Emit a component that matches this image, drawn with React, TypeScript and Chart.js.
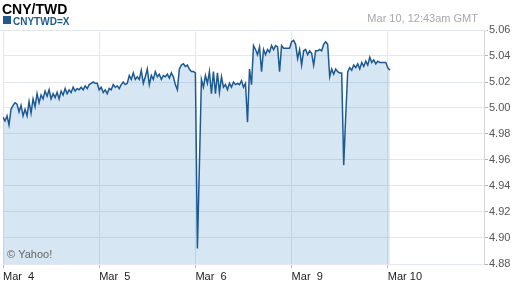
import React, { useEffect, useRef } from 'react';
import { Chart, registerables } from 'chart.js';

Chart.register(...registerables);

const TITLE = 'CNY/TWD';
const SYMBOL = 'CNYTWD=X';
const TIMESTAMP = 'Mar 10, 12:43am GMT';
const CREDIT = '© Yahoo!';

const X_TICK_DAYS = [0, 1, 2, 3, 4];
const X_TICK_LABELS = ['Mar  4', 'Mar  5', 'Mar  6', 'Mar  9', 'Mar 10'];
const Y_TICKS = [4.88, 4.9, 4.92, 4.94, 4.96, 4.98, 5.0, 5.02, 5.04, 5.06];
const Y_MIN = 4.88;
const Y_MAX = 5.06;
const X_MAX_DAYS = 5;
const SAMPLES_PER_DAY = 48; // one quote every 30 minutes

const MAR4 = [
  4.993, 4.99, 4.994, 4.987, 4.999, 5.002, 5.004, 5.003, 4.997, 5.002, 4.994, 4.999,
  4.994, 5.005, 4.996, 5.007, 5.001, 5.011, 5.004, 5.01, 5.007, 5.013, 5.009, 5.014,
  5.007, 5.011, 5.008, 5.012, 5.007, 5.013, 5.01, 5.015, 5.011, 5.014, 5.012, 5.016,
  5.013, 5.015, 5.014, 5.016, 5.014, 5.017, 5.015, 5.018, 5.019, 5.02, 5.019, 5.019,
];
const MAR5 = [
  5.014, 5.016, 5.012, 5.014, 5.011, 5.015, 5.014, 5.018, 5.016, 5.017, 5.015, 5.018,
  5.02, 5.018, 5.019, 5.025, 5.022, 5.027, 5.022, 5.024, 5.022, 5.029, 5.019, 5.024,
  5.03, 5.018, 5.025, 5.022, 5.028, 5.024, 5.026, 5.022, 5.025, 5.024, 5.026, 5.023,
  5.027, 5.024, 5.018, 5.014, 5.03, 5.033, 5.034, 5.032, 5.033, 5.03, 5.028, 5.028,
];
const MAR6 = [
  5.027, 4.892, 4.956, 5.022, 5.016, 5.025, 5.019, 5.028, 5.011, 5.028, 5.011, 5.027,
  5.012, 5.024, 5.016, 5.018, 5.014, 5.019, 5.016, 5.02, 5.018, 5.019, 5.018, 5.021,
  5.016, 5.019, 4.989, 5.03, 5.018, 5.048, 5.045, 5.041, 5.047, 5.028, 5.045, 5.041,
  5.045, 5.043, 5.048, 5.045, 5.048, 5.047, 5.028, 5.048, 5.046, 5.046, 5.046, 5.046,
];
const MAR9 = [
  5.051, 5.052, 5.049, 5.038, 5.045, 5.033, 5.044, 5.045, 5.041, 5.044, 5.042, 5.033,
  5.044, 5.044, 5.045, 5.044, 5.049, 5.051, 5.049, 5.024, 5.03, 5.026, 5.03, 5.028,
  5.027, 5.027, 4.956, 4.994, 5.028, 5.031, 5.029, 5.033, 5.031, 5.034, 5.03, 5.035,
  5.032, 5.036, 5.033, 5.039, 5.035, 5.037, 5.034, 5.036, 5.035, 5.035, 5.035, 5.035,
];
const MAR10 = [5.031, 5.029];

const DAYS = [MAR4, MAR5, MAR6, MAR9, MAR10];

const FONT = 'Liberation Sans, Arial, Helvetica, sans-serif';
const LINE_COLOR = '#1d5a94';
const FILL_COLOR = 'rgba(70, 140, 195, 0.22)';
const GRID_COLOR = '#e2e8ee';

const headerPlugin = {
  id: 'yahooHeader',
  afterDraw(chart: any) {
    const ctx = chart.ctx;
    ctx.save();
    ctx.strokeStyle = GRID_COLOR;
    ctx.lineWidth = 1;
    ctx.beginPath();
    ctx.moveTo(0, 30.5);
    ctx.lineTo(487, 30.5);
    ctx.stroke();

    ctx.textBaseline = 'alphabetic';
    ctx.textAlign = 'left';
    ctx.fillStyle = '#000';
    ctx.font = `bold 14px ${FONT}`;
    ctx.fillText(TITLE, 2, 13.5);

    ctx.fillStyle = LINE_COLOR;
    ctx.fillRect(3, 16, 8, 8);
    ctx.font = `bold 10px ${FONT}`;
    ctx.fillText(SYMBOL, 13, 24.5);

    ctx.fillStyle = '#a8a8a8';
    ctx.font = `11px ${FONT}`;
    ctx.textAlign = 'right';
    ctx.fillText(TIMESTAMP, 478, 22);

    ctx.textAlign = 'left';
    ctx.fillStyle = '#666';
    ctx.fillText(CREDIT, 7, 258);
    ctx.restore();
  },
};

export default function App() {
  const ref = useRef<HTMLCanvasElement | null>(null);

  useEffect(() => {
    if (!ref.current) return;
    const points: { x: number; y: number }[] = [];
    DAYS.forEach((vals, d) => {
      vals.forEach((v, j) => points.push({ x: d + j / SAMPLES_PER_DAY, y: v }));
    });

    const chart = new Chart(ref.current, {
      type: 'line',
      data: {
        datasets: [
          {
            data: points,
            borderColor: LINE_COLOR,
            borderWidth: 1.5,
            pointRadius: 0,
            tension: 0,
            fill: 'start',
            backgroundColor: FILL_COLOR,
          },
        ],
      },
      options: {
        responsive: false,
        animation: false,
        devicePixelRatio: 1,
        layout: { padding: { left: 3, top: 30, right: 0, bottom: 0 } },
        plugins: { legend: { display: false }, tooltip: { enabled: false } },
        scales: {
          x: {
            type: 'linear',
            min: 0,
            max: X_MAX_DAYS,
            afterBuildTicks: (s: any) => {
              s.ticks = X_TICK_DAYS.map((v) => ({ value: v }));
            },
            afterFit: (s: any) => {
              s.height = 24;
            },
            grid: { color: GRID_COLOR, tickColor: '#b4b4b4', tickLength: 4 },
            border: { display: false },
            ticks: {
              align: 'start',
              padding: 2,
              maxRotation: 0,
              autoSkip: false,
              color: '#222',
              font: { family: FONT, size: 11 },
              callback: (_v: any, i: number) => X_TICK_LABELS[i],
            },
          },
          y: {
            position: 'right',
            min: Y_MIN,
            max: Y_MAX,
            afterBuildTicks: (s: any) => {
              s.ticks = Y_TICKS.map((v) => ({ value: v }));
            },
            afterFit: (s: any) => {
              s.width = 28;
            },
            grid: { color: GRID_COLOR, tickColor: '#b4b4b4', tickLength: 4 },
            border: { display: true, color: '#d6d6d6' },
            ticks: {
              padding: 1,
              color: '#555',
              font: { family: FONT, size: 11 },
              callback: (v: any) => Number(v).toFixed(2),
            },
          },
        },
      } as any,
      plugins: [headerPlugin],
    });
    return () => chart.destroy();
  }, []);

  return (
    <div style={{ position: 'absolute', left: 0, top: 0, width: 512, height: 288, background: '#fff' }}>
      <canvas ref={ref} width={512} height={288} style={{ display: 'block' }} />
    </div>
  );
}
